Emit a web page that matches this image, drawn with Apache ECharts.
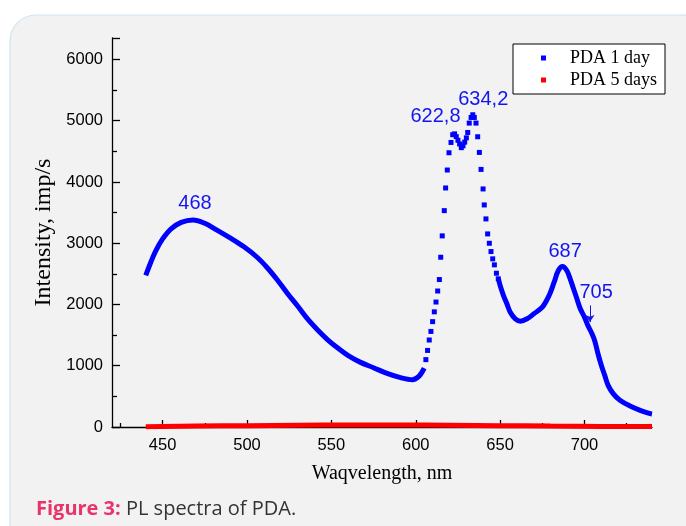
<!DOCTYPE html>
<html lang="en">
<head>
<meta charset="UTF-8">
<title>PL spectra of PDA</title>
<script src="https://cdn.jsdelivr.net/npm/echarts@6/dist/echarts.min.js"></script>
<style>
  html, body { margin: 0; padding: 0; background: #fff; }
  #chart { width: 686px; height: 526px; }
</style>
</head>
<body>
<div id="chart"></div>
<script>
// PDA 1 day - continuous part before the double peak (nm / imp/s)
var blueNmA = [440, 443, 446, 450, 455, 461, 468, 475, 482, 490, 498, 506, 512, 518, 524, 530, 536, 542, 548, 554, 560, 567, 575, 583, 591, 598, 602, 605];
var blueValA = [2475, 2690, 2880, 3070, 3235, 3340, 3380, 3325, 3217, 3087, 2945, 2771, 2600, 2400, 2180, 1975, 1760, 1580, 1420, 1285, 1165, 1059, 968, 875, 805, 772, 830, 960];
// separate points on the steep part (622,8 / 634,2 peaks)
var blueNmB = [606, 607, 608, 609, 610, 611, 612, 613, 614, 614.8, 615.7, 616.9, 617.7, 618.7, 619.7, 620.9, 621.9, 623, 624, 625, 626, 627, 628, 629, 630, 630.8, 631.7, 632.8, 633.8, 634.7, 635.7, 636.7, 637.7, 638.7, 639.9, 640.6, 641.6, 642.6, 643.6, 644.6, 645.6, 646.6, 647.8, 648.9];
var blueValB = [1100, 1250, 1420, 1560, 1720, 1880, 2040, 2220, 2407, 2771, 3120, 3532, 3902, 4195, 4477, 4645, 4771, 4785, 4740, 4680, 4620, 4560, 4590, 4650, 4720, 4808, 4961, 5053, 5097, 5053, 4961, 4738, 4482, 4205, 3886, 3625, 3397, 3152, 2999, 2864, 2745, 2647, 2510, 2419];
// continuous part after the double peak (687 peak, 705 shoulder)
var blueNmC = [649, 650, 652, 654, 656, 659, 662, 666, 670, 675, 679, 682, 684.5, 687, 689.5, 691.5, 693.5, 695.5, 697.5, 700, 702, 704, 706, 708, 710, 712, 714, 717, 721, 727, 733, 739, 740];
var blueValC = [2419, 2309, 2146, 2011, 1874, 1767, 1728, 1767, 1848, 1956, 2146, 2363, 2554, 2619, 2554, 2419, 2256, 2093, 1930, 1793, 1657, 1548, 1413, 1196, 1005, 842, 679, 544, 435, 342, 272, 218, 212];
// PDA 5 days
var redNm = [440, 470, 500, 530, 560, 590, 620, 650, 680, 710, 740];
var redVal = [5, 15, 22, 28, 32, 32, 28, 22, 15, 10, 8];

// peak labels
var noteText = ['468', '622,8', '634,2', '687', '705'];
var noteNm = [469.2, 611.7, 640.0, 688.5, 706.9];
var noteVal = [3649, 5072, 5341, 2863, 2194];

// axes
var xMin = 420, xMax = 740;
var yMin = 0, yMax = 6350;
var xTicks = [450, 500, 550, 600, 650, 700];
var xMinor = [425, 475, 525, 575, 625, 675, 725];
var yTicks = [0, 1000, 2000, 3000, 4000, 5000, 6000];
var yMinor = [500, 1500, 2500, 3500, 4500, 5500];

function zip(a, b) {
    var out = [];
    for (var i = 0; i < a.length; i++) out.push([a[i], b[i]]);
    return out;
}

var sans = 'Liberation Sans';
var serif = 'Liberation Serif';
var blue = '#0000ff';
var red = '#ff0000';
var noteColor = '#1414f0';

var chart = echarts.init(document.getElementById('chart'), null, {renderer: 'canvas'});

chart.setOption({
    animation: false,
    backgroundColor: '#ffffff',
    graphic: [
        {
            type: 'rect', z: -10, silent: true,
            shape: {x: 10, y: 15, width: 700, height: 560, r: 26},
            style: {fill: '#f2f2f2', stroke: '#cfe5f1', lineWidth: 1.2}
        },
        {
            type: 'text', left: 36, top: 499, silent: true,
            style: {
                text: '{a|Figure 3:} PL spectra of PDA.',
                fontFamily: 'Open Sans', fontSize: 20, fill: '#333333',
                rich: {a: {fontFamily: 'Open Sans', fontSize: 20, fontWeight: 'bold', fill: '#e8336b'}}
            }
        }
    ],
    grid: {left: 112, right: 34, top: 38, bottom: 99},
    legend: {
        orient: 'vertical', left: 513, top: 44,
        backgroundColor: '#ffffff', borderColor: '#000', borderWidth: 1, borderRadius: 0,
        padding: [5, 8, 5, 28], itemGap: 4, itemWidth: 5, itemHeight: 5,
        selectedMode: false,
        textStyle: {fontFamily: serif, fontSize: 18, color: '#000', padding: [0, 0, 0, 19]},
        data: [
            {name: 'PDA 1 day', icon: 'rect', itemStyle: {color: blue}},
            {name: 'PDA 5 days', icon: 'rect', itemStyle: {color: red}}
        ]
    },
    xAxis: [
        {
            type: 'value', min: xMin, max: xMax,
            name: 'Waqvelength, nm', nameLocation: 'middle', nameGap: 37,
            nameTextStyle: {fontFamily: serif, fontSize: 20, color: '#000'},
            axisLine: {show: true, lineStyle: {color: '#000', width: 1.3}},
            axisTick: {show: true, inside: true, length: 7, customValues: xTicks, lineStyle: {color: '#000', width: 1.3}},
            axisLabel: {
                customValues: xTicks, margin: 10, fontFamily: sans, fontSize: 16.5, color: '#000',
                formatter: function (v) { return String(v); }
            },
            splitLine: {show: false}
        },
        {
            type: 'value', min: xMin, max: xMax, position: 'bottom',
            axisLine: {show: false},
            axisTick: {show: true, inside: true, length: 4, customValues: xMinor, lineStyle: {color: '#000', width: 1.3}},
            axisLabel: {show: false},
            splitLine: {show: false}
        }
    ],
    yAxis: [
        {
            type: 'value', min: yMin, max: yMax,
            name: 'Intensity, imp/s', nameLocation: 'middle', nameGap: 42,
            nameTextStyle: {fontFamily: serif, fontSize: 24, color: '#000'},
            axisLine: {show: true, lineStyle: {color: '#000', width: 1.3}},
            axisTick: {show: true, inside: true, length: 8, customValues: yTicks.concat([yMax]), lineStyle: {color: '#000', width: 1.3}},
            axisLabel: {
                customValues: yTicks, margin: 9, fontFamily: sans, fontSize: 16.5, color: '#000',
                formatter: function (v) { return String(v); }
            },
            splitLine: {show: false}
        },
        {
            type: 'value', min: yMin, max: yMax, position: 'left',
            axisLine: {show: false},
            axisTick: {show: true, inside: true, length: 5, customValues: yMinor, lineStyle: {color: '#000', width: 1.3}},
            axisLabel: {show: false},
            splitLine: {show: false}
        }
    ],
    series: [
        {
            name: 'PDA 1 day', type: 'line', data: zip(blueNmA, blueValA),
            showSymbol: false, smooth: 0.35,
            lineStyle: {color: blue, width: 5}, itemStyle: {color: blue}, z: 3
        },
        {
            name: 'PDA 1 day', type: 'scatter', data: zip(blueNmB, blueValB),
            symbol: 'rect', symbolSize: 5, itemStyle: {color: blue, opacity: 1}, z: 3
        },
        {
            name: 'PDA 1 day', type: 'line', data: zip(blueNmC, blueValC),
            showSymbol: false, smooth: 0.35,
            lineStyle: {color: blue, width: 5}, itemStyle: {color: blue}, z: 3
        },
        {
            name: 'PDA 5 days', type: 'line', data: zip(redNm, redVal),
            showSymbol: false, smooth: 0.4,
            lineStyle: {color: red, width: 5}, itemStyle: {color: red}, z: 4
        },
        {
            name: 'notes', type: 'scatter', data: zip(noteNm, noteVal),
            symbolSize: 0.2, itemStyle: {color: noteColor, opacity: 1}, silent: true, z: 5,
            label: {
                show: true, position: 'inside',
                formatter: function (p) { return noteText[p.dataIndex]; },
                fontFamily: sans, fontSize: 20, color: noteColor,
                textBorderWidth: 0, opacity: 1
            },
            markLine: {
                silent: true, symbol: ['none', 'arrow'], symbolSize: 7,
                lineStyle: {color: noteColor, width: 1, type: 'solid'},
                label: {show: false},
                data: [[{coord: [703.2, 1985]}, {coord: [703.2, 1713]}]]
            }
        }
    ]
});
</script>
</body>
</html>
